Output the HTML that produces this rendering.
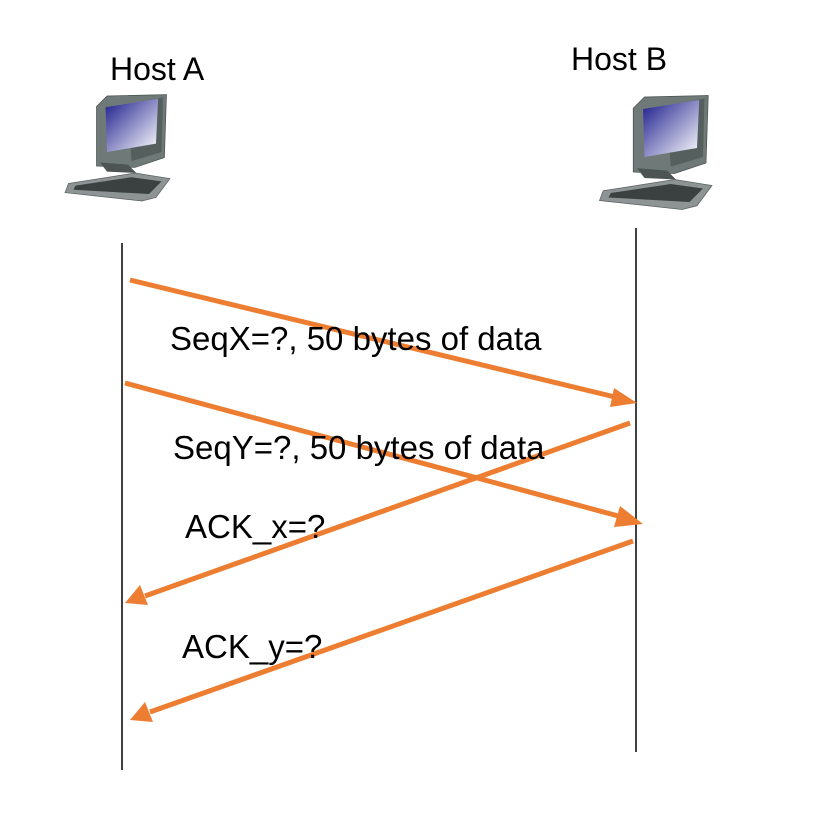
<!DOCTYPE html>
<html><head><style>body{margin:0;background:#fff}svg{display:block}</style></head><body>
<svg width="827" height="836" viewBox="0 0 827 836" xmlns="http://www.w3.org/2000/svg" font-family="Liberation Sans, sans-serif">
<defs>
<linearGradient id="scr" x1="0" y1="0" x2="1" y2="1"><stop offset="0" stop-color="#1a1a8c"/><stop offset="1" stop-color="#ffffff"/></linearGradient>
<g id="pc">
<polygon points="55,35 70,20 155,18 152,108 110,122 55,120" fill="#6f7a78" stroke="#4a5250"/>
<polygon points="100,32 150,22 148,100 105,113" fill="#55605e"/>
<polygon points="68,36 143,24 140,88 70,100" fill="url(#scr)"/>
<polygon points="60,115 100,118 112,130 70,128" fill="#4d5554"/>
<polygon points="15,145 110,130 160,138 140,165 120,170 10,158" fill="#8d9493" stroke="#5a6261"/>
<polygon points="25,148 105,136 148,142 130,160 22,154" fill="#3b4140"/>
</g>
</defs>
<use href="#pc" transform="translate(58,82) scale(0.7)"/>
<use href="#pc" transform="translate(592,82) scale(0.75)"/>
<text x="110" y="80" font-size="32">Host A</text>
<text x="571" y="70" font-size="32">Host B</text>
<line x1="122" y1="243" x2="122" y2="770" stroke="#000" stroke-width="1.5"/>
<line x1="636" y1="228" x2="636" y2="752" stroke="#000" stroke-width="1.5"/>
<g stroke="#ED7D31" stroke-width="5" fill="none">
<line x1="130" y1="280" x2="615" y2="397"/>
<line x1="125" y1="383" x2="622" y2="517"/>
<line x1="630" y1="423" x2="145" y2="596"/>
<line x1="633" y1="541" x2="150" y2="712"/>
</g>
<g fill="#ED7D31">
<polygon points="637,403 614,388 610,407"/>
<polygon points="643,524 620,506 614,527"/>
<polygon points="125,603 140,585 148,605"/>
<polygon points="130,720 145,702 153,722"/>
</g>
<g font-size="33" fill="#000">
<text x="170" y="350">SeqX=?, 50 bytes of data</text>
<text x="173" y="459">SeqY=?, 50 bytes of data</text>
<text x="185" y="538">ACK_x=?</text>
<text x="182" y="658">ACK_y=?</text>
</g>
</svg>
</body></html>
